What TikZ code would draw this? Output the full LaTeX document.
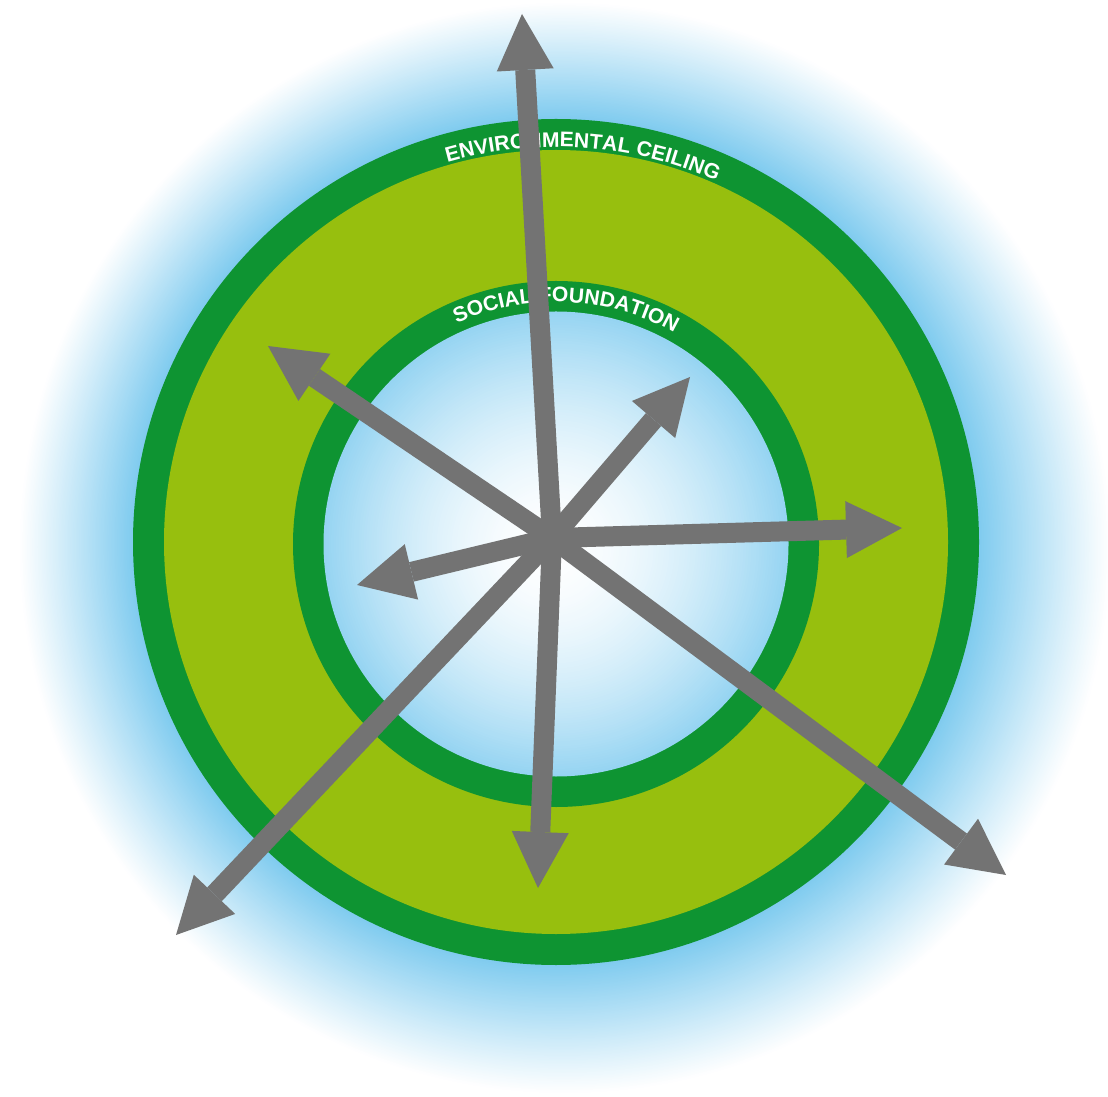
\documentclass[tikz,border=0pt]{standalone}
\usepackage{fontspec}
\usetikzlibrary{arrows.meta,decorations.text}
\newfontfamily\lblfont{Liberation Sans}
\newcommand\ringfont{\lblfont\bfseries\fontsize{12}{12}\selectfont}
\definecolor{ringdark}{HTML}{0E9432}
\definecolor{ringlight}{HTML}{97BF0E}
\definecolor{sky}{HTML}{7FCBEF}
\definecolor{arrowgray}{HTML}{737373}
\begin{document}
\begin{tikzpicture}[x=0.02cm,y=0.02cm,
  ray/.style={draw=arrowgray, fill=arrowgray, line width=0.4cm,
    -{Triangle[length=1.12cm,width=1.14cm,line width=0pt]}},
  ringtext/.style={decorate, decoration={text along path, text align=center,
    text color=white, text={|\ringfont|#1}}}]
\useasboundingbox (0,0) rectangle (1108,1096);
\fill[white] (0,0) rectangle (1108,1096);
% outer glow
\foreach \i in {0,...,90}{
  \pgfmathsetmacro\t{\i/90}
  \pgfmathsetmacro\cx{565-9*\t}
  \pgfmathsetmacro\cy{548+6*\t}
  \pgfmathsetmacro\rr{546-123*\t}
  \pgfmathsetmacro\p{100*\t^1.05}
  \fill[sky!\p!white] (\cx,\cy) circle[radius=\rr];
}
% rings
\fill[ringdark] (556,554) circle[radius=423];
\fill[ringlight] (556,554) circle[radius=392];
\fill[ringdark] (556,552) circle[radius=263];
% inner sky
\foreach \i in {0,...,90}{
  \pgfmathsetmacro\t{\i/90}
  \pgfmathsetmacro\rr{232*(1-\t)+0.5}
  \pgfmathsetmacro\cx{556-6*\t}
  \pgfmathsetmacro\cy{552-6*\t}
  \pgfmathsetmacro\p{82*(1-\t)^1.7}
  \fill[sky!\p!white] (\cx,\cy) circle[radius=\rr];
}
% labels
\path[ringtext={ENVIRONMENTAL CEILING}] (556,554) ++(121:395) arc[start angle=121, end angle=51, radius=395];
\path[ringtext={SOCIAL FOUNDATION}] (556,552) ++(122.5:242) arc[start angle=122.5, end angle=52.5, radius=242];
% arrows
\coordinate (hub) at (552,558);
\coordinate (tN) at (522,1082);
\coordinate (tNW) at (268,750);
\coordinate (tNE) at (690,719);
\coordinate (tE) at (902,568);
\coordinate (tW) at (357,511);
\coordinate (tSW) at (176,161);
\coordinate (tS) at (538,208);
\coordinate (tSE) at (1006,221);
\foreach \tip in {tN,tNW,tNE,tE,tW,tSW,tS,tSE}{
  \draw[ray] (hub) -- (\tip);
}
\end{tikzpicture}
\end{document}
